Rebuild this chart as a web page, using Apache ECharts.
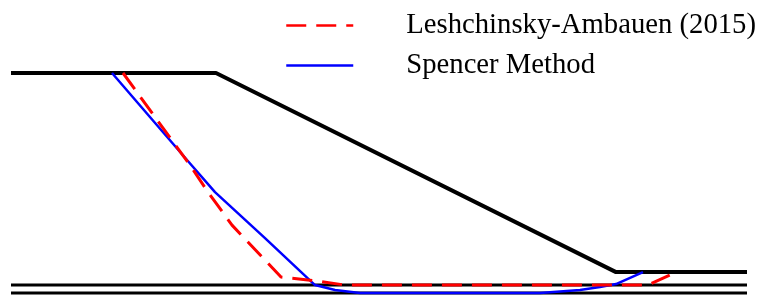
<!DOCTYPE html>
<html>
<head>
<meta charset="utf-8">
<script src="https://cdn.jsdelivr.net/npm/echarts@6/dist/echarts.min.js"></script>
<style>
  html, body { margin: 0; padding: 0; background: #fff; }
  #chart { width: 761px; height: 297px; }
</style>
</head>
<body>
<div id="chart"></div>
<script>
  // slope geometry (x, y in m, toe at y = 0)
  const slopeProfile = [[0, 10], [10.25, 10], [30.25, 0], [36.8, 0]];
  const baseLine1 = [[0, -0.65], [36.8, -0.65]];
  const baseLine2 = [[0, -1.05], [36.8, -1.05]];

  const seriesNames = ['Leshchinsky-Ambauen (2015)', 'Spencer Method'];

  // critical slip surfaces
  const leshchinsky = [
    [5.6, 10], [8.95, 5.37], [9.85, 4.02], [11.05, 2.36], [13.5, -0.25],
    [15.3, -0.45], [16.7, -0.65], [31.85, -0.65], [33.25, 0]
  ];
  const spencer = [
    [5.05, 10], [8.8, 5.63], [10.2, 4.02], [12.7, 1.71], [15.2, -0.65],
    [16.2, -0.9], [17.45, -1.05], [26.45, -1.05], [28.45, -0.9],
    [29.45, -0.75], [30.25, -0.6], [31.6, 0]
  ];

  const chart = echarts.init(document.getElementById('chart'));

  const blackLine = (data, width) => ({
    type: 'line',
    data: data,
    symbol: 'none',
    silent: true,
    lineStyle: { color: '#000', width: width },
    z: 1
  });

  const option = {
    animation: false,
    grid: { left: 11, right: 14, top: 73, bottom: 1 },
    xAxis: { type: 'value', min: 0, max: 36.8, show: false },
    yAxis: { type: 'value', min: -1.2, max: 10, show: false },
    legend: {
      orient: 'vertical',
      left: 280,
      top: 6,
      itemWidth: 67,
      itemHeight: 14,
      itemGap: 11,
      data: seriesNames,
      itemStyle: { opacity: 0 },
      lineStyle: { width: 2.5 },
      textStyle: {
        fontFamily: 'Liberation Serif',
        fontSize: 28.7,
        color: '#000',
        padding: [0, 0, 0, 48]
      }
    },
    series: [
      blackLine(slopeProfile, 4),
      blackLine(baseLine1, 3),
      blackLine(baseLine2, 3),
      {
        name: seriesNames[1],
        type: 'line',
        data: spencer,
        symbol: 'none',
        showSymbol: false,
        itemStyle: { color: '#0000ff' },
        lineStyle: { color: '#0000ff', width: 2.5 },
        z: 2
      },
      {
        name: seriesNames[0],
        type: 'line',
        data: leshchinsky,
        symbol: 'none',
        showSymbol: false,
        itemStyle: { color: '#ff0000' },
        lineStyle: { color: '#ff0000', width: 3, type: [20, 10] },
        z: 3
      }
    ]
  };

  chart.setOption(option);
</script>
</body>
</html>
